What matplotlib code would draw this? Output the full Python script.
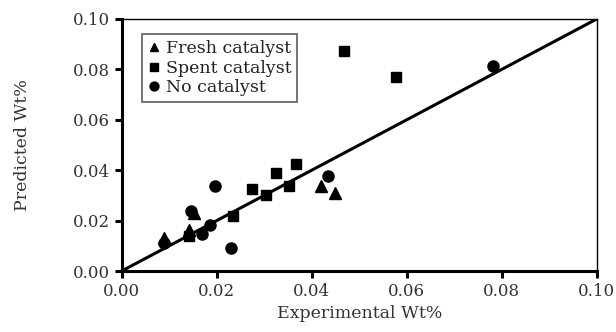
import matplotlib
matplotlib.use('Agg')
import matplotlib.pyplot as plt

plt.rcParams['font.family'] = 'serif'
plt.rcParams['font.serif'] = ['DejaVu Serif']

# Fresh catalyst (experimental, predicted)
fresh_x = [0.009, 0.0142, 0.0153, 0.0420, 0.0450]
fresh_y = [0.013, 0.0163, 0.0229, 0.0339, 0.0308]

# Spent catalyst
spent_x = [0.0142, 0.0234, 0.0274, 0.0303, 0.0325, 0.0353, 0.0366, 0.0468, 0.0577]
spent_y = [0.0140, 0.0218, 0.0325, 0.0302, 0.0387, 0.0339, 0.0425, 0.0874, 0.0769]

# No catalyst
none_x = [0.009, 0.0145, 0.0170, 0.0186, 0.0196, 0.0230, 0.0434, 0.0782]
none_y = [0.011, 0.0238, 0.0148, 0.0183, 0.0337, 0.0093, 0.0377, 0.0815]

fig = plt.figure(figsize=(6.16, 3.32), dpi=100)
ax = fig.add_axes([0.1976, 0.1837, 0.7711, 0.7591])

ax.plot([0, 0.1], [0, 0.1], color='black', linewidth=2.2, zorder=1)
ax.plot(fresh_x, fresh_y, '^', color='black', markersize=8, label='Fresh catalyst', zorder=3)
ax.plot(spent_x, spent_y, 's', color='black', markersize=7, label='Spent catalyst', zorder=3)
ax.plot(none_x, none_y, 'o', color='black', markersize=8, label='No catalyst', zorder=3)

ax.set_xlim(0, 0.1)
ax.set_ylim(0, 0.1)
ticks = [0, 0.02, 0.04, 0.06, 0.08, 0.10]
labels = ['0.00', '0.02', '0.04', '0.06', '0.08', '0.10']
ax.set_xticks(ticks)
ax.set_yticks(ticks)
ax.set_xticklabels(labels)
ax.set_yticklabels(labels)
ax.tick_params(direction='out', length=5, width=2.2, labelsize=12, colors='black', labelcolor='#333333')
for s in ['left', 'bottom']:
    ax.spines[s].set_linewidth(2.2)
for s in ['top', 'right']:
    ax.spines[s].set_linewidth(1)

ax.set_xlabel('Experimental Wt%', fontsize=12.5, color='#333333', labelpad=4)
ax.set_ylabel('Predicted Wt%', fontsize=12.5, color='#333333', labelpad=30)

leg = ax.legend(loc='upper left', bbox_to_anchor=(0.025, 0.975), frameon=True, fancybox=False,
                edgecolor='#333333', handlelength=0.6, handletextpad=0.4, borderpad=0.35,
                labelspacing=0.15, fontsize=12.5, markerscale=0.8)
leg.get_frame().set_linewidth(1.2)
for t in leg.get_texts():
    t.set_color('#222222')

fig.savefig('out.png', dpi=100)
